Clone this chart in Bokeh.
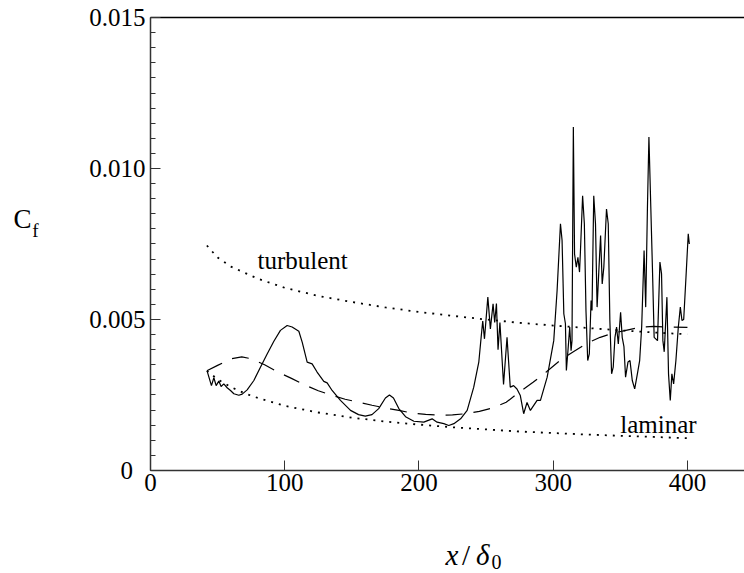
from bokeh.plotting import figure
from bokeh.models import FixedTicker, PrintfTickFormatter, Label, LinearAxis
from bokeh.embed import file_html
from bokeh.resources import INLINE

# ---------------- data ----------------
sim_x = [42.2, 45.4, 47.2, 48.9, 50.9, 52.6, 54.6, 57.1, 59.6, 62.1, 65.8, 68.3, 72.0, 77.0,
         81.9, 86.9, 91.9, 96.8, 101.8, 105.5, 110.5, 113.0, 116.7, 120.4, 124.1, 129.1,
         131.6, 135.3, 141.5, 149.0, 155.0, 160.0, 165.0, 170.0, 175.0, 178.0, 181.0, 185.0,
         190.0, 196.2, 203.6, 209.8, 213.5, 218.5, 222.2, 226.0, 231.0, 235.9, 240.8, 244.6,
         246.5, 247.5, 248.8, 251.3, 253.2, 255.2, 256.4, 257.7, 258.9, 260.3, 263.0, 265.6,
         268.0, 270.5, 273.0, 275.5, 278.0, 280.5, 283.0, 288.0, 290.5, 295.5, 300.4, 302.9,
         305.4, 306.6, 307.9, 309.1, 309.8, 310.8, 312.3, 313.3, 314.0, 315.0, 315.9, 317.2,
         318.4, 319.6, 320.2, 321.9, 323.2, 324.4, 325.7, 326.9, 328.2, 328.9, 330.2, 331.5,
         332.7, 334.0, 335.3, 336.5, 337.7, 339.7, 341.0, 342.2, 343.5, 344.7, 346.0, 347.2,
         348.5, 350.2, 351.4, 352.7, 353.9, 355.7, 357.2, 358.9, 360.7, 362.7, 364.4, 365.9,
         367.7, 368.9, 370.2, 371.3, 372.7, 373.9, 375.2, 377.7, 379.5, 380.7, 381.7, 382.7,
         384.7, 385.9, 387.2, 388.4, 389.7, 391.4, 393.2, 394.7, 395.9, 397.2, 398.9, 400.6,
         401.4]
sim_cf = [0.00329, 0.00281, 0.00307, 0.00281, 0.00296, 0.00278, 0.00287, 0.00274, 0.00265,
          0.00254, 0.00249, 0.00253, 0.00267, 0.00298, 0.00342, 0.00386, 0.00428, 0.00464,
          0.00480, 0.00475, 0.00461, 0.00425, 0.00359, 0.00353, 0.00326, 0.00295, 0.00290,
          0.00265, 0.00232, 0.00199, 0.00185, 0.00180, 0.00185, 0.00205, 0.00240, 0.00250,
          0.00240, 0.00205, 0.00178, 0.00163, 0.00160, 0.00171, 0.00160, 0.00155, 0.00149,
          0.00155, 0.00171, 0.00199, 0.00276, 0.00360, 0.00450, 0.00495, 0.00436, 0.00574,
          0.00469, 0.00552, 0.00490, 0.00553, 0.00400, 0.00490, 0.00285, 0.00441, 0.00276,
          0.00281, 0.00270, 0.00248, 0.00188, 0.00225, 0.00199, 0.00232, 0.00232, 0.00309,
          0.00430, 0.00596, 0.00817, 0.00762, 0.00519, 0.00486, 0.00331, 0.00386, 0.00475,
          0.00397, 0.00430, 0.01137, 0.00717, 0.00673, 0.00706, 0.00657, 0.00717, 0.00910,
          0.00817, 0.00530, 0.00364, 0.00386, 0.00563, 0.00530, 0.00910, 0.00817, 0.00541,
          0.00662, 0.00778, 0.00618, 0.00673, 0.00866, 0.00817, 0.00497, 0.00320, 0.00342,
          0.00441, 0.00475, 0.00419, 0.00524, 0.00441, 0.00410, 0.00309, 0.00359, 0.00364,
          0.00298, 0.00270, 0.00320, 0.00364, 0.00475, 0.00728, 0.00541, 0.00872, 0.01104,
          0.00872, 0.00673, 0.00441, 0.00430, 0.00690, 0.00651, 0.00430, 0.00393, 0.00574,
          0.00320, 0.00232, 0.00320, 0.00287, 0.00364, 0.00475, 0.00541, 0.00497, 0.00500,
          0.00640, 0.00784, 0.00750]

avg_x = [42, 50, 60, 68, 75, 85, 95, 105, 115, 125, 135, 145, 155, 165, 175, 185, 195, 205,
         215, 225, 235, 245, 255, 265, 275, 285, 295, 305, 315, 325, 335, 345, 355, 365, 375,
         385, 400]
avg_cf = [0.00330, 0.00348, 0.00370, 0.00376, 0.00370, 0.00350, 0.00326, 0.00305, 0.00283,
          0.00264, 0.00249, 0.00236, 0.00226, 0.00216, 0.00207, 0.00199, 0.00190, 0.00186,
          0.00183, 0.00184, 0.00188, 0.00196, 0.00207, 0.00226, 0.00260, 0.00292, 0.00327,
          0.00364, 0.00393, 0.00421, 0.00441, 0.00455, 0.00465, 0.00475, 0.00477, 0.00475,
          0.00474]

turb_x = [42, 50, 60, 80, 100, 125, 150, 175, 200, 225, 250, 275, 300, 325, 350, 375, 400]
turb_cf = [0.00745, 0.00705, 0.00675, 0.00635, 0.00605, 0.00578, 0.00558, 0.00540, 0.00525,
           0.00512, 0.00500, 0.00489, 0.00480, 0.00472, 0.00464, 0.00457, 0.00451]

lam_x = [42, 50, 60, 70, 80, 100, 125, 150, 175, 200, 225, 250, 275, 300, 325, 350, 375, 400]
lam_cf = [0.00330, 0.00302, 0.00276, 0.00256, 0.00240, 0.00214, 0.00192, 0.00175, 0.00162,
          0.00152, 0.00143, 0.00136, 0.00129, 0.00124, 0.00119, 0.00115, 0.00111, 0.00107]

x_ticks = [0, 100, 200, 300, 400]
y_ticks = [0, 0.005, 0.010, 0.015]
y_minor = [i * 0.0005 for i in range(31)]

X_END = 442.5
Y_TOP = 0.015

FONT = "Liberation Serif"

# The frame covers the whole canvas; the axes are pinned at x=0 / y=0 so that
# the axis titles (drawn as labels) are not clipped away.
p = figure(width=744, height=573, x_range=(-111.74, X_END), y_range=(-0.003411, 0.015563),
           output_backend="svg", toolbar_location=None, title=None,
           min_border_left=0, min_border_right=0, min_border_top=0, min_border_bottom=0)
p.outline_line_color = None
p.xgrid.visible = False
p.ygrid.visible = False
p.background_fill_color = "white"
p.border_fill_color = "white"

AX = "#333333"

xa = p.xaxis[0]
xa.fixed_location = 0
xa.bounds = (0, X_END)
xa.ticker = FixedTicker(ticks=x_ticks, minor_ticks=[])
xa.major_tick_in = 10
xa.major_tick_out = 0
xa.minor_tick_in = 0
xa.minor_tick_out = 0
xa.axis_line_color = AX
xa.axis_line_width = 1.5
xa.major_tick_line_color = AX
xa.major_label_text_font = FONT
xa.major_label_text_font_size = "25px"
xa.major_label_text_color = "black"
xa.major_label_standoff = 4

ya = p.yaxis[0]
ya.fixed_location = 0
ya.bounds = (0, Y_TOP)
ya.ticker = FixedTicker(ticks=y_ticks, minor_ticks=y_minor)
ya.formatter = PrintfTickFormatter(format="%.3f")
ya.major_label_overrides = {0: "0\u2002"}
ya.major_tick_in = 10
ya.major_tick_out = 0
ya.minor_tick_in = 5
ya.minor_tick_out = 0
ya.axis_line_color = AX
ya.axis_line_width = 1.5
ya.major_tick_line_color = AX
ya.minor_tick_line_color = AX
ya.major_label_text_font = FONT
ya.major_label_text_font_size = "25px"
ya.major_label_text_color = "black"
ya.major_label_standoff = 5

# top frame line, as a bare axis pinned at the top of the y range
top = LinearAxis(fixed_location=Y_TOP, bounds=(0, X_END), axis_line_color="black",
                 axis_line_width=1.5, major_tick_line_color=None, minor_tick_line_color=None,
                 major_label_text_font_size="0px", major_label_text_color=None)
p.add_layout(top, "above")

# curves
p.line(turb_x, turb_cf, line_color="black", line_width=1.8, line_dash="2 6")
p.line(lam_x, lam_cf, line_color="black", line_width=1.8, line_dash="2 6")
p.line(avg_x, avg_cf, line_color="black", line_width=1.2, line_dash="17 11")
p.line(sim_x, sim_cf, line_color="black", line_width=1.2)

SH = 0.00027  # baseline correction

# curve labels
p.add_layout(Label(x=79.7, y=0.00669 + SH, text="turbulent", text_font=FONT,
                   text_font_size="25px", text_color="black", text_baseline="alphabetic"))
p.add_layout(Label(x=350, y=0.00126 + SH, text="laminar", text_font=FONT,
                   text_font_size="25px", text_color="black", text_baseline="alphabetic"))

# axis titles
p.add_layout(Label(x=-102, y=0.00805 + SH, text="C", text_font=FONT,
                   text_font_size="27px", text_color="black", text_baseline="alphabetic"))
p.add_layout(Label(x=-88, y=0.00768 + SH, text="f", text_font=FONT,
                   text_font_size="19px", text_color="black", text_baseline="alphabetic"))

p.add_layout(Label(x=219.7, y=-0.00308 + SH, text="x", text_font=FONT, text_font_style="italic",
                   text_font_size="29px", text_color="black", text_baseline="alphabetic"))
p.add_layout(Label(x=232.0, y=-0.00308 + SH, text="/", text_font=FONT,
                   text_font_size="29px", text_color="black", text_baseline="alphabetic"))
p.add_layout(Label(x=242.5, y=-0.00308 + SH, text="δ", text_font=FONT, text_font_style="italic",
                   text_font_size="29px", text_color="black", text_baseline="alphabetic"))
p.add_layout(Label(x=254.0, y=-0.00331 + SH, text="0", text_font=FONT,
                   text_font_size="20px", text_color="black", text_baseline="alphabetic"))

open("out.html", "w").write(file_html(p, INLINE))
